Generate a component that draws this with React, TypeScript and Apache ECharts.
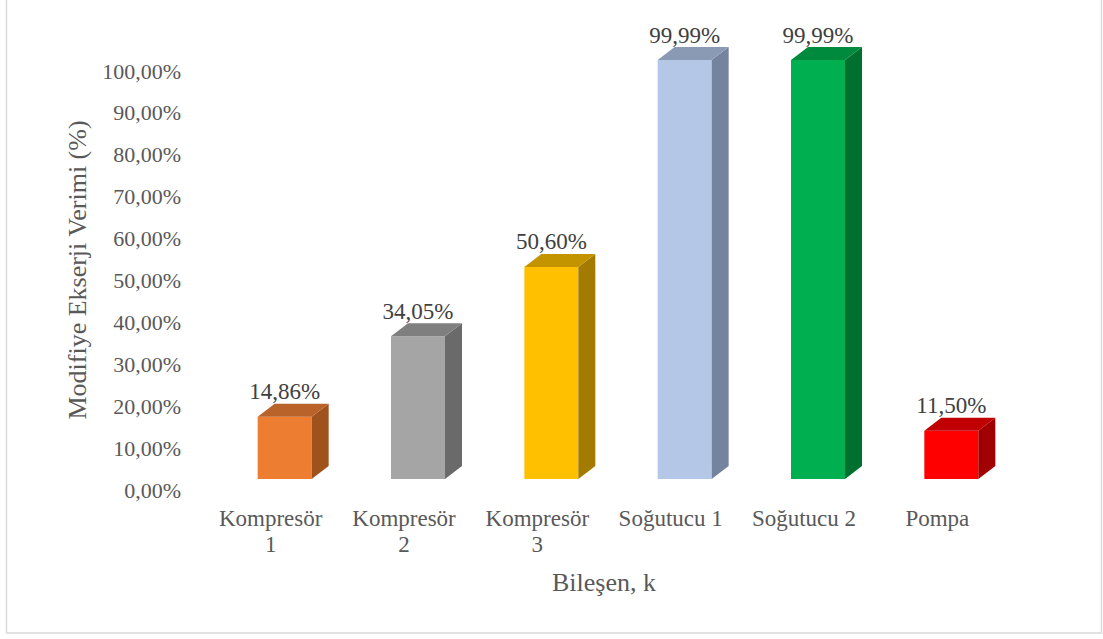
import React, { useEffect, useRef } from "react";
import * as echarts from "echarts";

const categories = ["Kompresör\n1", "Kompresör\n2", "Kompresör\n3", "Soğutucu 1", "Soğutucu 2", "Pompa"];
const values = [14.86, 34.05, 50.6, 99.99, 99.99, 11.5];
const frontColors = ["#ED7D31", "#A5A5A5", "#FFC000", "#B4C7E7", "#00B050", "#FF0000"];
const topColors = ["#B9622A", "#7F7F7F", "#C39400", "#8A9AB5", "#008A3E", "#C00000"];
const sideColors = ["#A0521D", "#6A6A6A", "#A37B00", "#75849E", "#00702F", "#A00000"];
const yTicks = { min: 0, max: 100, interval: 10 };

const FONT = '"Liberation Serif", "Times New Roman", serif';
const fmt = (v: number) => v.toFixed(2).replace(".", ",") + "%";

export default function App() {
  const ref = useRef<HTMLDivElement>(null);
  useEffect(() => {
    if (!ref.current) return;
    const chart = echarts.init(ref.current, null, { renderer: "svg" });
    const OFF_X = 14, OFF_Y = -11, HALF = 27, DX = 17, DY = -13;
    chart.setOption({
      animation: false,
      backgroundColor: "#ffffff",
      grid: { left: 204, right: 99, top: 71, bottom: 149 },
      xAxis: {
        type: "category",
        data: categories,
        axisLine: { show: false },
        axisTick: { show: false },
        axisLabel: { color: "#595959", fontFamily: FONT, fontSize: 23, lineHeight: 26, margin: 15, interval: 0 },
      },
      yAxis: {
        type: "value",
        min: yTicks.min,
        max: yTicks.max,
        interval: yTicks.interval,
        splitLine: { show: false },
        axisLine: { show: false },
        axisTick: { show: false },
        axisLabel: { color: "#595959", fontFamily: FONT, fontSize: 22, margin: 23, formatter: (v: number) => fmt(v) },
      },
      graphic: [
        {
          type: "rect",
          shape: { x: 6.5, y: -2, width: 1095, height: 635 },
          style: { fill: "none", stroke: "#D9D9D9", lineWidth: 1.5 },
          silent: true,
        },
        {
          type: "text",
          x: 77,
          y: 270,
          rotation: Math.PI / 2,
          style: { text: "Modifiye Ekserji Verimi (%)", font: `26px ${FONT}`, fill: "#595959", align: "center", verticalAlign: "middle" },
        },
        {
          type: "text",
          x: 604,
          y: 582,
          style: { text: "Bileşen, k", font: `26px ${FONT}`, fill: "#595959", align: "center", verticalAlign: "middle" },
        },
      ],
      series: [
        {
          type: "custom",
          data: values.map((v, i) => [i, v]),
          encode: { x: 0, y: 1 },
          renderItem: (params: any, api: any) => {
            const idx = api.value(0);
            const val = api.value(1);
            const top = api.coord([idx, val]);
            const base = api.coord([idx, 0]);
            const cx = top[0] + OFF_X;
            const l = cx - HALF, r = cx + HALF;
            const yt = top[1] + OFF_Y, yb = base[1] + OFF_Y;
            const i = params.dataIndex;
            return {
              type: "group",
              children: [
                { type: "rect", shape: { x: l, y: yt, width: r - l, height: yb - yt }, style: { fill: frontColors[i] } },
                { type: "polygon", shape: { points: [[r, yt], [r + DX, yt + DY], [r + DX, yb + DY], [r, yb]] }, style: { fill: sideColors[i] } },
                { type: "polygon", shape: { points: [[l, yt], [l + DX, yt + DY], [r + DX, yt + DY], [r, yt]] }, style: { fill: topColors[i] } },
                {
                  type: "text",
                  x: cx,
                  y: yt + DY - 12,
                  style: { text: fmt(val), font: `23px ${FONT}`, fill: "#404040", align: "center", verticalAlign: "middle" },
                },
              ],
            };
          },
        },
      ],
    });
    return () => chart.dispose();
  }, []);
  return <div ref={ref} style={{ position: "fixed", left: 0, top: 0, width: 1103, height: 639 }} />;
}
